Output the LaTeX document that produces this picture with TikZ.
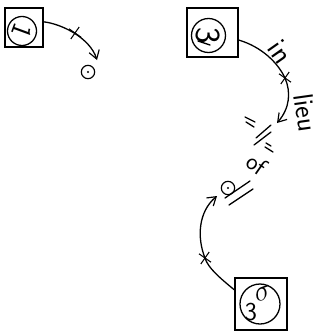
\documentclass[tikz,border=0pt]{standalone}
\usepackage{amsmath,amssymb}
\usepackage{fontspec}
\usetikzlibrary{shapes.misc,arrows.meta}

\tikzset{
  slot/.style={draw, line width=1.3pt, inner sep=0pt},
  ring/.style={draw, circle, line width=1.1pt, inner sep=0pt},
  dotring/.style={draw, circle, line width=1pt, minimum size=0.4cm, inner sep=0pt},
  tick/.style={draw, cross out, line width=0.9pt, minimum size=0.28cm, inner sep=0pt},
  hand/.style={line width=1.1pt, line cap=round},
  handarrow/.style={hand, -{Straight Barb[length=7pt,width=9pt,line width=1pt]}},
  word/.style={inner sep=0pt}
}

\begin{document}
\begin{tikzpicture}[x=0.03cm, y=-0.03cm]
  \useasboundingbox (0,0) rectangle (323,331);

  % boxes with their circled numbers
  \node[slot, minimum width=1.14cm, minimum height=1.17cm] (b1) at (24,27.5) {};
  \node[ring, minimum size=0.87cm, rotate=-110, font=\sffamily\fontsize{24}{26}\selectfont] (c1) at (22,31) {1};

  \node[slot, minimum width=1.53cm, minimum height=1.47cm] (b3) at (212.5,32.5) {};
  \node[ring, minimum size=1.02cm, rotate=-90, font=\sffamily\fontsize{30}{32}\selectfont] (c3) at (208.5,35.5) {3};
  \draw[hand] (198,41) -- (210,45);

  \node[slot, minimum size=1.56cm] (b4) at (261,304) {};
  \node[ring, minimum size=1.2cm] (c4) at (260,304) {};
  \node[word, rotate=20, font=\sffamily\fontsize{26}{28}\selectfont] (sg) at (263,294) {$\sigma$};
  \node[word, font=\sffamily\fontsize{22}{24}\selectfont] (th) at (251,312) {3};

  % small dotted circles
  \node[dotring] (p1) at (88,72) {};
  \fill (p1.center) circle (1pt);
  \node[dotring] (p2) at (228,188) {};
  \fill (p2.center) circle (1pt);

  % arrow ends and crossing points
  \coordinate (t1) at (97,60);
  \coordinate (x1) at (75,33);
  \coordinate (x3) at (285,78);
  \coordinate (t3) at (277,123);
  \coordinate (x4) at (205,258);
  \coordinate (t4) at (217,196);

  % curved arrows
  \draw[handarrow] (b1.16) .. controls (62,24) and (90,38) .. (t1);
  \draw[handarrow] (b3.-16) .. controls (262,47) and (278,63) .. (x3)
                   .. controls (291,92) and (290,108) .. (t3);
  \draw[handarrow] (b4.152) .. controls (220,278) and (208,268) .. (x4)
                   .. controls (197,238) and (198,212) .. (t4);

  % crosses on the arcs
  \node[tick, rotate=10] (k1) at (x1) {};
  \node[tick, rotate=10] (k3) at (x3) {};
  \node[tick, rotate=10] (k4) at (x4) {};

  % words along the middle arc
  \node[word, rotate=-55, font=\sffamily\fontsize{25}{27}\selectfont] (w1) at (280,52) {in};
  \node[word, rotate=-82, font=\sffamily\fontsize{24}{26}\selectfont] (w2) at (306,113) {lieu};
  \node[word, rotate=-35, font=\sffamily\fontsize{21}{23}\selectfont] (w3) at (257,164) {of};

  % stroke marks
  \draw[hand] (245,117) -- (255,122);
  \draw[hand] (246,122) -- (254,127);
  \draw[hand] (256,138) -- (271,125);
  \draw[hand] (254,145) -- (271,132);
  \draw[hand] (266,143) -- (271,146);
  \draw[hand] (265,147) -- (273,152);
  \draw[hand] (225,198) -- (250,181);
  \draw[hand] (229,205) -- (253,189);

\end{tikzpicture}
\end{document}
